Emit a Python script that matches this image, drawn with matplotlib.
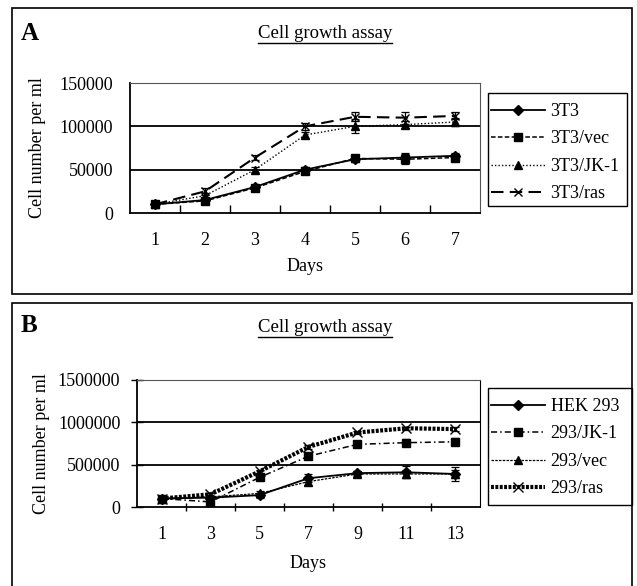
import matplotlib.pyplot as plt
from matplotlib.patches import Rectangle
from matplotlib.lines import Line2D

plt.rcParams['font.family'] = ['Liberation Serif', 'DejaVu Serif']

# panel A data
days_a = [1, 2, 3, 4, 5, 6, 7]
t3 = [10000, 15000, 30000, 50000, 62000, 64000, 66000]
t3_err = [1000, 1500, 2000, 3000, 3000, 5000, 3000]
t3_vec = [10000, 14000, 29000, 48000, 63000, 62000, 64000]
t3_vec_err = [2000, 2000, 2000, 3000, 3000, 6000, 3000]
t3_jk1 = [10000, 20000, 50000, 90000, 100000, 102000, 105000]
t3_jk1_err = [1000, 3000, 3000, 4000, 8000, 4000, 5000]
t3_ras = [10000, 25000, 64000, 100000, 111000, 110000, 112000]
t3_ras_err = [1000, 4000, 3000, 4000, 5000, 7000, 4000]
labels_a = ['3T3', '3T3/vec', '3T3/JK-1', '3T3/ras']

# panel B data
days_b = [1, 3, 5, 7, 9, 11, 13]
hek = [100000, 110000, 140000, 340000, 400000, 410000, 390000]
hek_err = [10000, 10000, 30000, 50000, 30000, 70000, 80000]
hek_jk1 = [100000, 60000, 350000, 600000, 740000, 760000, 770000]
hek_jk1_err = [10000, 10000, 30000, 30000, 30000, 40000, 40000]
hek_vec = [100000, 120000, 160000, 300000, 390000, 390000, 390000]
hek_vec_err = [10000, 10000, 30000, 40000, 30000, 50000, 50000]
hek_ras = [100000, 150000, 420000, 710000, 880000, 930000, 920000]
hek_ras_err = [5000, 10000, 20000, 20000, 20000, 20000, 20000]
labels_b = ['HEK 293', '293/JK-1', '293/vec', '293/ras']

W, H = 637, 586
FS = 13
fig = plt.figure(figsize=(W / 100, H / 100), dpi=100)


def px(x0, y0, x1, y1):
    # pixel box (top-left origin) -> figure fractions
    return [x0 / W, 1 - y1 / H, (x1 - x0) / W, (y1 - y0) / H]


def frame(x0, y0, x1, y1, lw=1.2):
    b = px(x0, y0, x1, y1)
    fig.add_artist(Rectangle((b[0], b[1]), b[2], b[3], transform=fig.transFigure,
                             fill=False, edgecolor='black', lw=lw))


def title(xc, yc, text):
    t = fig.text(xc / W, 1 - yc / H, text, ha='center', va='center', fontsize=13.5)
    r = fig.canvas.get_renderer()
    bb = t.get_window_extent(r)
    yl = bb.y0 - 1
    fig.add_artist(Line2D([bb.x0 / W, bb.x1 / W], [yl / H, yl / H],
                          transform=fig.transFigure, color='black', lw=1.0))


def style_axes(ax, xlim, ylim, yticks, minor_x, xticks):
    ax.set_xlim(*xlim)
    ax.set_ylim(*ylim)
    ax.set_yticks(yticks)
    ax.set_yticklabels([str(v) for v in yticks], fontsize=FS)
    ax.set_xticks(xticks)
    ax.set_xticklabels([str(v) for v in xticks], fontsize=FS)
    ax.set_xticks(minor_x, minor=True)
    ax.tick_params(axis='x', which='major', length=0, pad=14)
    ax.tick_params(axis='x', which='minor', length=6, direction='inout', width=1)
    ax.tick_params(axis='y', length=8, direction='inout', width=1, pad=8)
    for v in yticks[1:-1]:
        ax.axhline(v, color='black', lw=1.3, zorder=1)
    ax.spines['left'].set_linewidth(1.3)
    ax.spines['bottom'].set_linewidth(1.3)
    ax.spines['top'].set_linewidth(0.8)
    ax.spines['top'].set_color('#555555')
    ax.spines['right'].set_linewidth(0.8)
    ax.spines['right'].set_color('#555555')


def series(ax, x, y, err, marker, ls, lw, label, ms=6):
    ax.errorbar(x, y, yerr=err, fmt='none', ecolor='black', capsize=3,
                elinewidth=0.9, capthick=0.9)
    ln, = ax.plot(x, y, color='black', marker=marker, ls=ls, lw=lw, ms=ms,
                  label=label, markeredgewidth=1.0)
    return ln


def legend(ax, handles, x0, y0, x1, y1):
    frame(x0, y0, x1, y1, lw=1.0)
    ax.legend(handles=handles, loc='upper left',
              bbox_to_anchor=((x0 + 3) / W, 1 - (y0 + 10) / H),
              bbox_transform=fig.transFigure, fontsize=FS, frameon=False,
              handlelength=3.0, handletextpad=0.3, labelspacing=0.58,
              borderaxespad=0, borderpad=0)


# ---- panel A ----
frame(12, 8, 632, 294)
fig.text(21 / W, 1 - 33 / H, 'A', fontsize=18, fontweight='bold', va='center')
title(325, 33, 'Cell growth assay')
axA = fig.add_axes(px(130, 83, 480, 213))
hA = [
    series(axA, days_a, t3, t3_err, 'D', '-', 1.3, labels_a[0], ms=5),
    series(axA, days_a, t3_vec, t3_vec_err, 's', (0, (3, 1.5)), 1.1, labels_a[1]),
    series(axA, days_a, t3_jk1, t3_jk1_err, '^', (0, (1, 1.5)), 1.0, labels_a[2]),
    series(axA, days_a, t3_ras, t3_ras_err, 'x', (0, (6, 3)), 1.5, labels_a[3]),
]
style_axes(axA, (0.5, 7.5), (0, 150000), [0, 50000, 100000, 150000],
           [1.5, 2.5, 3.5, 4.5, 5.5, 6.5], days_a)
axA.tick_params(axis='y', length=0, pad=12)
axA.tick_params(axis='x', which='minor', direction='in')
axA.set_xlabel('Days', fontsize=FS, labelpad=6)
axA.set_ylabel('Cell number per ml', fontsize=FS, labelpad=10)
legend(axA, hA, 488, 93, 627, 206)

# ---- panel B ----
frame(12, 303, 632, 590)
fig.text(21 / W, 1 - 325 / H, 'B', fontsize=18, fontweight='bold', va='center')
title(325, 327, 'Cell growth assay')
axB = fig.add_axes(px(137, 380, 480, 507))
hB = [
    series(axB, days_b, hek, hek_err, 'D', '-', 1.3, labels_b[0], ms=5),
    series(axB, days_b, hek_jk1, hek_jk1_err, 's', (0, (4, 2, 1, 2)), 1.1, labels_b[1]),
    series(axB, days_b, hek_vec, hek_vec_err, '^', (0, (2, 1)), 0.9, labels_b[2]),
    series(axB, days_b, hek_ras, hek_ras_err, 'x', (0, (0.7, 0.35)), 3.0, labels_b[3], ms=7),
]
style_axes(axB, (0, 14), (0, 1500000), [0, 500000, 1000000, 1500000],
           [2, 4, 6, 8, 10, 12], days_b)
axB.spines['right'].set_color('black')
axB.set_xlabel('Days', fontsize=FS, labelpad=8)
axB.set_ylabel('Cell number per ml', fontsize=FS, labelpad=6)
legend(axB, hB, 488, 388, 632, 505)

fig.savefig('out.png', dpi=100)
